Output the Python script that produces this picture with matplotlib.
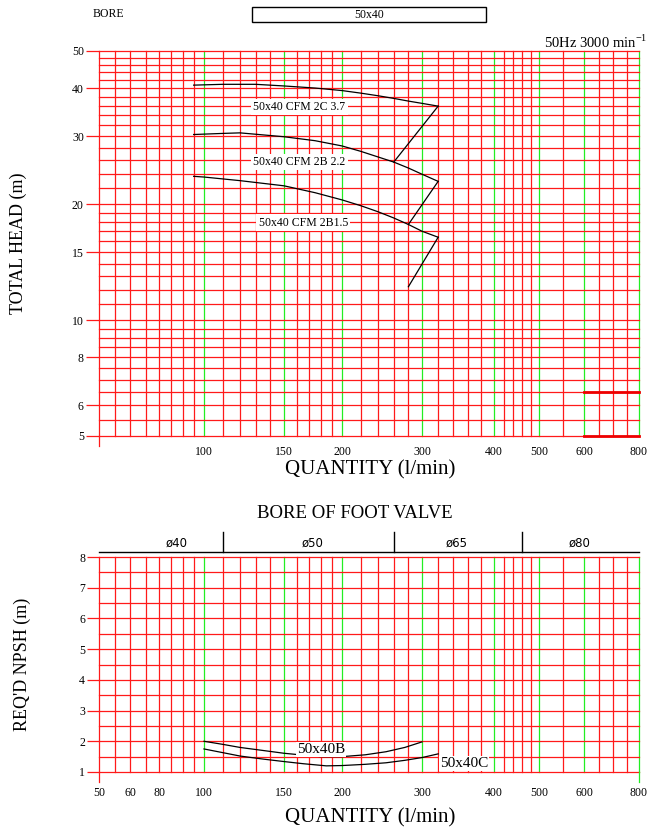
import numpy as np
import matplotlib
matplotlib.use('Agg')
import matplotlib.pyplot as plt
from matplotlib.patches import Rectangle
from matplotlib.ticker import FixedLocator, NullLocator
from matplotlib.transforms import blended_transform_factory

plt.rcParams['font.family'] = ['Liberation Serif', 'DejaVu Serif']
plt.rcParams['mathtext.fontset'] = 'custom'
plt.rcParams['mathtext.rm'] = 'Liberation Serif'

### Data ###

# quantity axis (l/min)
q_ticks_top = [100, 150, 200, 300, 400, 500, 600, 800]
q_ticks_bot = [50, 60, 80, 100, 150, 200, 300, 400, 500, 600, 800]
q_grid = [50, 55, 60, 70, 80, 85, 90, 95, 100, 110, 120, 130, 140, 150, 160, 170, 180, 190,
          200, 220, 240, 260, 280, 300, 320, 340, 360, 380, 400, 420, 440, 460, 480,
          500, 550, 600, 650, 700, 750, 800]
q_green = [100, 150, 200, 300, 400, 500, 600, 800]

# total head (m)
h_ticks = [5, 6, 8, 10, 15, 20, 30, 40, 50]
h_grid = [5, 5.5, 6, 6.5, 7, 7.5, 8, 8.5, 9, 9.5, 10, 11, 12, 13, 14, 15, 16, 17, 18, 19,
          20, 22, 24, 26, 28, 30, 32, 34, 36, 38, 40, 42, 44, 46, 48, 50]

# required NPSH (m)
npsh_ticks = [1, 2, 3, 4, 5, 6, 7, 8]
npsh_grid = [1, 1.5, 2, 2.5, 3, 3.5, 4, 4.5, 5, 5.5, 6, 6.5, 7, 7.5, 8]

# pump curves
q_2c = [95, 110, 130, 150, 175, 200, 220, 240, 260, 280, 300, 320]
h_2c = [40.7, 40.9, 40.9, 40.5, 40.0, 39.4, 38.8, 38.2, 37.6, 37.0, 36.5, 35.9]
q_2b = [95, 110, 120, 150, 175, 200, 220, 240, 260, 280, 300, 320]
h_2b = [30.3, 30.5, 30.6, 29.9, 29.2, 28.3, 27.4, 26.5, 25.7, 24.8, 23.9, 22.9]
q_2b15 = [95, 100, 120, 150, 175, 200, 220, 240, 260, 280, 300, 320]
h_2b15 = [23.6, 23.5, 23.0, 22.3, 21.4, 20.5, 19.8, 19.1, 18.4, 17.7, 17.0, 16.4]

# operating range limit lines
limit_q = [(320, 260), (320, 280), (320, 280)]
limit_h = [(35.9, 25.7), (22.9, 17.7), (16.4, 12.2)]

curve_labels = ['50x40 CFM 2C 3.7', '50x40 CFM 2B 2.2', '50x40 CFM 2B1.5']
label_q = [162, 162, 165]
label_h = [35.7, 25.7, 17.9]

# npsh curves
q_npsh_b = [100, 110, 120, 135, 150, 165, 180, 200, 225, 250, 275, 300]
npsh_b = [2.0, 1.9, 1.8, 1.7, 1.61, 1.55, 1.5, 1.5, 1.56, 1.66, 1.8, 1.98]
q_npsh_c = [100, 110, 120, 135, 150, 165, 185, 200, 225, 250, 275, 300, 320]
npsh_c = [1.75, 1.63, 1.52, 1.42, 1.34, 1.27, 1.2, 1.21, 1.25, 1.3, 1.38, 1.47, 1.59]

# foot valve bores
valve_edges = [50, 110, 260, 460, 800]
valve_labels = ['ø40', 'ø50', 'ø65', 'ø80']
valve_label_q = [87.5, 173, 345, 590]

# thick marks at bottom right of the head chart
mark_h = [6.5, 5]


### Quantity scale (piecewise log, as on the printed sheet) ###

scale_q = np.log10([50, 60, 80, 100, 150, 200, 300, 400, 500, 600, 800])
scale_t = np.array([0, 31, 60, 105, 185, 243, 323, 395, 440, 485, 540]) / 540.0


def q_forward(x):
    x = np.clip(np.asarray(x, dtype=float), 1e-3, None)
    return np.interp(np.log10(x), scale_q, scale_t)


def q_inverse(t):
    return 10 ** np.interp(np.asarray(t, dtype=float), scale_t, scale_q)


def draw_grid(ax, y_grid):
    for q in q_grid:
        c = '#22ee22' if q in q_green else '#ff1a1a'
        ax.axvline(q, color=c, lw=0.9, zorder=1, clip_on=False)
    for y in y_grid:
        ax.axhline(y, color='#ff1a1a', lw=0.9, zorder=1, clip_on=False)
    for s in ax.spines.values():
        s.set_visible(False)


fig = plt.figure(figsize=(6.48, 8.32), dpi=100)

### Head chart ###
ax1 = fig.add_axes([99 / 648, 1 - 436 / 832, 540 / 648, 385.3 / 832])
ax1.set_xscale('function', functions=(q_forward, q_inverse))
ax1.set_yscale('log')
ax1.set_xlim(50, 800)
ax1.set_ylim(5, 50)
draw_grid(ax1, h_grid)

ax1.xaxis.set_major_locator(FixedLocator(q_ticks_top))
ax1.xaxis.set_minor_locator(NullLocator())
ax1.set_xticklabels([str(v) for v in q_ticks_top])
ax1.yaxis.set_major_locator(FixedLocator(h_ticks))
ax1.yaxis.set_minor_locator(NullLocator())
ax1.set_yticklabels([str(v) for v in h_ticks])
ax1.tick_params(axis='x', length=0, pad=7.5, labelsize=8.5)
ax1.tick_params(axis='y', length=9.4, width=0.9, color='#ff1a1a', pad=1.5, labelsize=8.5)

for q, h in zip([q_2c, q_2b, q_2b15], [h_2c, h_2b, h_2b15]):
    ax1.plot(q, h, color='black', lw=0.9, zorder=3)
for q, h in zip(limit_q, limit_h):
    ax1.plot(q, h, color='black', lw=0.9, zorder=3)
for txt, q, h in zip(curve_labels, label_q, label_h):
    ax1.text(q, h, txt, fontsize=8.5, ha='center', va='center', zorder=4,
             bbox=dict(facecolor='white', edgecolor='none', pad=1.5))
for h in mark_h:
    ax1.plot([600, 800], [h, h], color='#ee0000', lw=2, zorder=2, clip_on=False)

tr1 = blended_transform_factory(ax1.transData, ax1.transAxes)
ax1.plot([50, 50], [0, -0.026], color='#ff1a1a', lw=0.9, transform=tr1, clip_on=False)

### NPSH chart ###
ax2 = fig.add_axes([99 / 648, 1 - 772 / 832, 540 / 648, 215 / 832])
ax2.set_xscale('function', functions=(q_forward, q_inverse))
ax2.set_xlim(50, 800)
ax2.set_ylim(1, 8)
draw_grid(ax2, npsh_grid)

ax2.xaxis.set_major_locator(FixedLocator(q_ticks_bot))
ax2.xaxis.set_minor_locator(NullLocator())
ax2.set_xticklabels([str(v) for v in q_ticks_bot])
ax2.yaxis.set_major_locator(FixedLocator(npsh_ticks))
ax2.yaxis.set_minor_locator(NullLocator())
ax2.set_yticklabels([str(v) for v in npsh_ticks])
ax2.tick_params(axis='x', length=0, pad=11, labelsize=8.5)
ax2.tick_params(axis='y', length=8.5, width=0.9, color='#ff1a1a', pad=1.5, labelsize=8.5)

ax2.plot(q_npsh_b, npsh_b, color='black', lw=0.9, zorder=3)
ax2.plot(q_npsh_c, npsh_c, color='black', lw=0.9, zorder=3)
ax2.text(180, 1.74, '50x40B', fontsize=11, ha='center', va='center', zorder=4,
         bbox=dict(facecolor='white', edgecolor='none', pad=0.5))
ax2.text(322, 1.27, '50x40C', fontsize=11, ha='left', va='center', zorder=4,
         bbox=dict(facecolor='white', edgecolor='none', pad=0.5))

tr2 = blended_transform_factory(ax2.transData, ax2.transAxes)
ax2.plot([50, 50], [0, -0.047], color='#ff1a1a', lw=0.9, transform=tr2, clip_on=False)
ax2.plot([800, 800], [0, -0.047], color='#22ee22', lw=0.9, transform=tr2, clip_on=False)

# foot valve band
ax2.plot([valve_edges[0], valve_edges[-1]], [1.025, 1.025], color='black', lw=1,
         transform=tr2, clip_on=False)
for q in valve_edges[1:-1]:
    ax2.plot([q, q], [1.025, 1.116], color='black', lw=1, transform=tr2, clip_on=False)
for txt, q in zip(valve_labels, valve_label_q):
    ax2.text(q, 1.066, txt, fontsize=8.5, ha='center', va='center', transform=tr2,
             family='DejaVu Sans')

### Figure texts ###
fig.text(93 / 648, 1 - 14 / 832, 'BORE', fontsize=8.5, ha='left', va='center')
fig.add_artist(Rectangle((252 / 648, 1 - 22 / 832), 234 / 648, 14.7 / 832,
                         transform=fig.transFigure, fill=False, lw=1, edgecolor='black'))
fig.text(369 / 648, 1 - 14.6 / 832, '50x40', fontsize=8.5, ha='center', va='center')
fig.text(647 / 648, 1 - 42 / 832, r'50Hz 3000 min$^{\mathregular{-1}}$', fontsize=10.5,
         ha='right', va='center')

fig.text(18 / 648, 1 - 243 / 832, 'TOTAL HEAD (m)', fontsize=13, rotation=90,
         ha='center', va='center')
fig.text(370 / 648, 1 - 470 / 832, 'QUANTITY (l/min)', fontsize=15, ha='center', va='center')
fig.text(355 / 648, 1 - 514 / 832, 'BORE OF FOOT VALVE', fontsize=13.5, ha='center',
         va='center')
fig.text(22 / 648, 1 - 664 / 832, "REQ'D NPSH (m)", fontsize=13, rotation=90,
         ha='center', va='center')
fig.text(370 / 648, 1 - 818 / 832, 'QUANTITY (l/min)', fontsize=15, ha='center', va='center')

fig.savefig('out.png', dpi=100)
